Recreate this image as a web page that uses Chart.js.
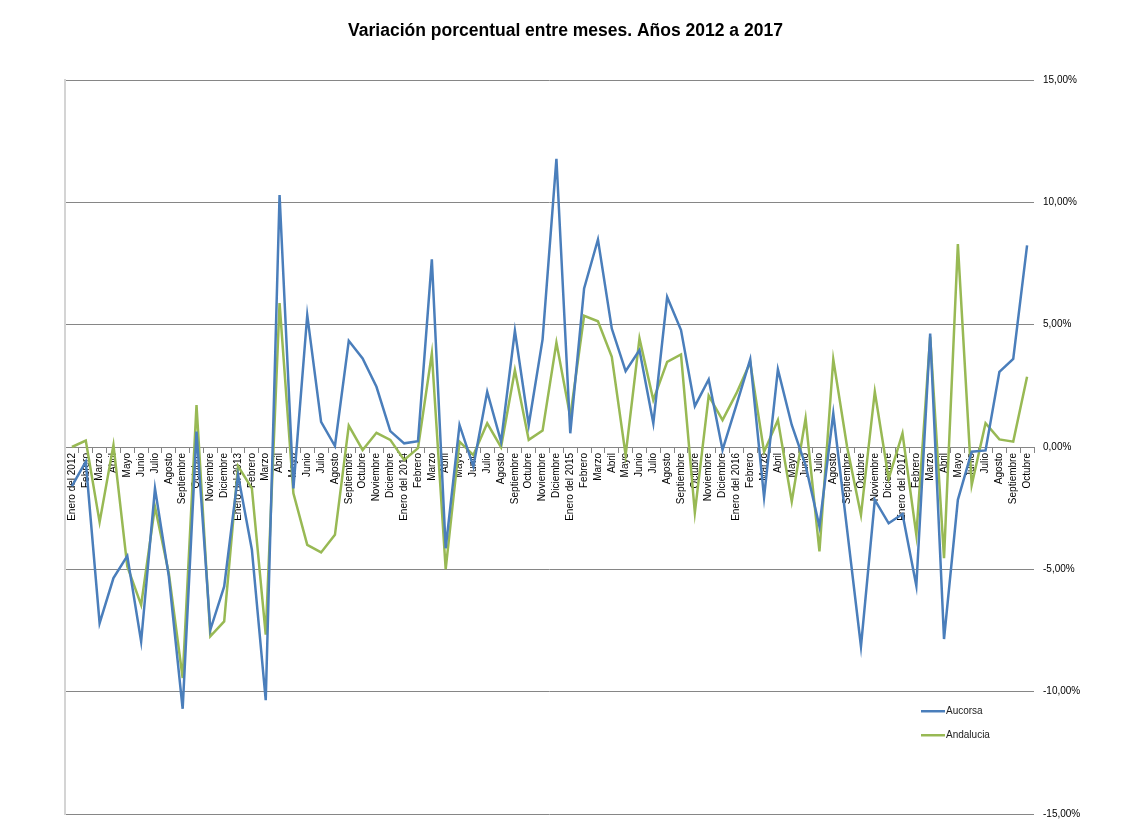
<!DOCTYPE html>
<html lang="es">
<head>
<meta charset="utf-8">
<title>Variación porcentual entre meses</title>
<script src="https://cdn.jsdelivr.net/npm/chart.js@4/dist/chart.umd.min.js"></script>
<style>
  html, body { margin: 0; padding: 0; background: #fff; }
  #grafico { display: block; }
</style>
</head>
<body>
<canvas id="grafico" width="1131" height="829"></canvas>
<script>
// Meses de enero 2012 a octubre 2017
const nombresMes = ['Enero', 'Febrero', 'Marzo', 'Abril', 'Mayo', 'Junio', 'Julio',
  'Agosto', 'Septiembre', 'Octubre', 'Noviembre', 'Diciembre'];
const anios = [2012, 2013, 2014, 2015, 2016, 2017];
const ultimoMes2017 = 10;

// Variación porcentual mensual
const aucorsa = [
  -1.6, -0.6, -7.2, -5.36, -4.45, -7.95, -1.69, -5.29, -10.7, 0.63, -7.47, -5.7,
  -1.14, -4.2, -10.35, 10.3, -1.69, 5.39, 1.03, 0.04, 4.34, 3.62, 2.46, 0.65,
  0.15, 0.24, 7.67, -4.14, 0.9, -0.8, 2.26, 0.22, 4.75, 0.9, 4.4, 11.78,
  0.56, 6.48, 8.48, 4.84, 3.1, 3.96, 0.97, 6.13, 4.78, 1.67, 2.76, -0.12,
  1.71, 3.58, -2.05, 3.17, 0.9, -0.75, -3.25, 1.37, -3.39, -8.15, -2.16, -3.12,
  -2.74, -5.67, 4.64, -7.85, -2.16, -0.19, -0.14, 3.07, 3.6, 8.24
];
const andalucia = [
  0, 0.26, -3.07, 0.08, -4.88, -6.45, -2.44, -5.16, -9.44, 1.71, -7.74, -7.13,
  -0.78, -1.69, -7.67, 5.88, -1.89, -4.0, -4.31, -3.59, 0.87, -0.12, 0.58, 0.29,
  -0.53, -0.05, 3.82, -4.99, 0.22, -0.33, 0.97, -0.01, 3.14, 0.29, 0.67, 4.27,
  1.24, 5.36, 5.14, 3.69, -0.33, 4.44, 1.92, 3.48, 3.78, -2.68, 2.1, 1.1,
  2.19, 3.46, -0.2, 1.1, -2.23, 1.17, -4.27, 3.58, 0.0, -2.78, 2.26, -1.3,
  0.56, -3.59, 4.5, -4.54, 8.29, -1.55, 0.97, 0.31, 0.22, 2.87
];

const series = ['Aucorsa', 'Andalucia'];
const colores = ['#4a7ebb', '#98b954'];
const ejeY = { min: -15, max: 15, paso: 5 };

// Etiquetas: "Enero del AAAA" para enero y el nombre del mes para el resto
const meses = [];
anios.forEach(a => {
  const n = a === 2017 ? ultimoMes2017 : 12;
  for (let m = 0; m < n; m++) meses.push(m === 0 ? 'Enero del ' + a : nombresMes[m]);
});

const fuente = "'Liberation Sans', Arial, sans-serif";
Chart.defaults.font.family = fuente;
Chart.defaults.color = '#000';

// Leyenda dentro del área del gráfico, abajo a la derecha
const leyendaInterior = {
  id: 'leyendaInterior',
  afterDraw(chart) {
    const { ctx, chartArea, scales } = chart;
    const x0 = chartArea.right - 113;
    ctx.save();
    ctx.font = '10px ' + fuente;
    ctx.textBaseline = 'middle';
    chart.data.datasets.forEach((ds, i) => {
      const y = scales.y.getPixelForValue(-10.8) + i * 24;
      ctx.strokeStyle = ds.borderColor;
      ctx.lineWidth = 2.5;
      ctx.beginPath();
      ctx.moveTo(x0, y);
      ctx.lineTo(x0 + 24, y);
      ctx.stroke();
      ctx.fillStyle = '#222';
      ctx.fillText(ds.label, x0 + 25, y);
    });
    ctx.restore();
  }
};

const ctx = document.getElementById('grafico').getContext('2d');
new Chart(ctx, {
  type: 'line',
  data: {
    labels: meses,
    datasets: [aucorsa, andalucia].map((d, i) => ({
      label: series[i],
      data: d,
      borderColor: colores[i],
      backgroundColor: colores[i],
      borderWidth: 2.5,
      pointRadius: 0,
      tension: 0,
      yAxisID: 'y'
    }))
  },
  options: {
    responsive: false,
    animation: false,
    layout: { padding: { top: 0, bottom: 14, left: 0, right: 0 } },
    plugins: {
      legend: { display: false },
      tooltip: { enabled: false },
      title: {
        display: true,
        text: 'Variación porcentual entre meses. Años 2012 a 2017',
        font: { size: 17.5, weight: 'bold' },
        color: '#000',
        padding: { top: 21, bottom: 38 }
      }
    },
    scales: {
      x: {
        position: { y: 0 },
        offset: true,
        grid: { drawOnChartArea: false, offset: true, tickLength: 5, color: '#868686' },
        border: { color: '#868686', width: 1 },
        ticks: { autoSkip: false, minRotation: 90, maxRotation: 90, font: { size: 10 }, padding: 1 }
      },
      y: {
        position: 'right',
        min: ejeY.min,
        max: ejeY.max,
        grid: { color: '#868686', drawTicks: false },
        border: { display: false },
        ticks: {
          stepSize: ejeY.paso,
          padding: 9,
          font: { size: 10 },
          callback: v => v.toFixed(2).replace('.', ',') + '%'
        },
        afterFit(s) { s.width = 97; }
      },
      yIzq: {
        position: 'left',
        min: ejeY.min,
        max: ejeY.max,
        grid: { display: false },
        border: { color: '#d4d4d4', width: 2 },
        ticks: { display: false },
        afterFit(s) { s.width = 65; }
      }
    }
  },
  plugins: [leyendaInterior]
});
</script>
</body>
</html>
